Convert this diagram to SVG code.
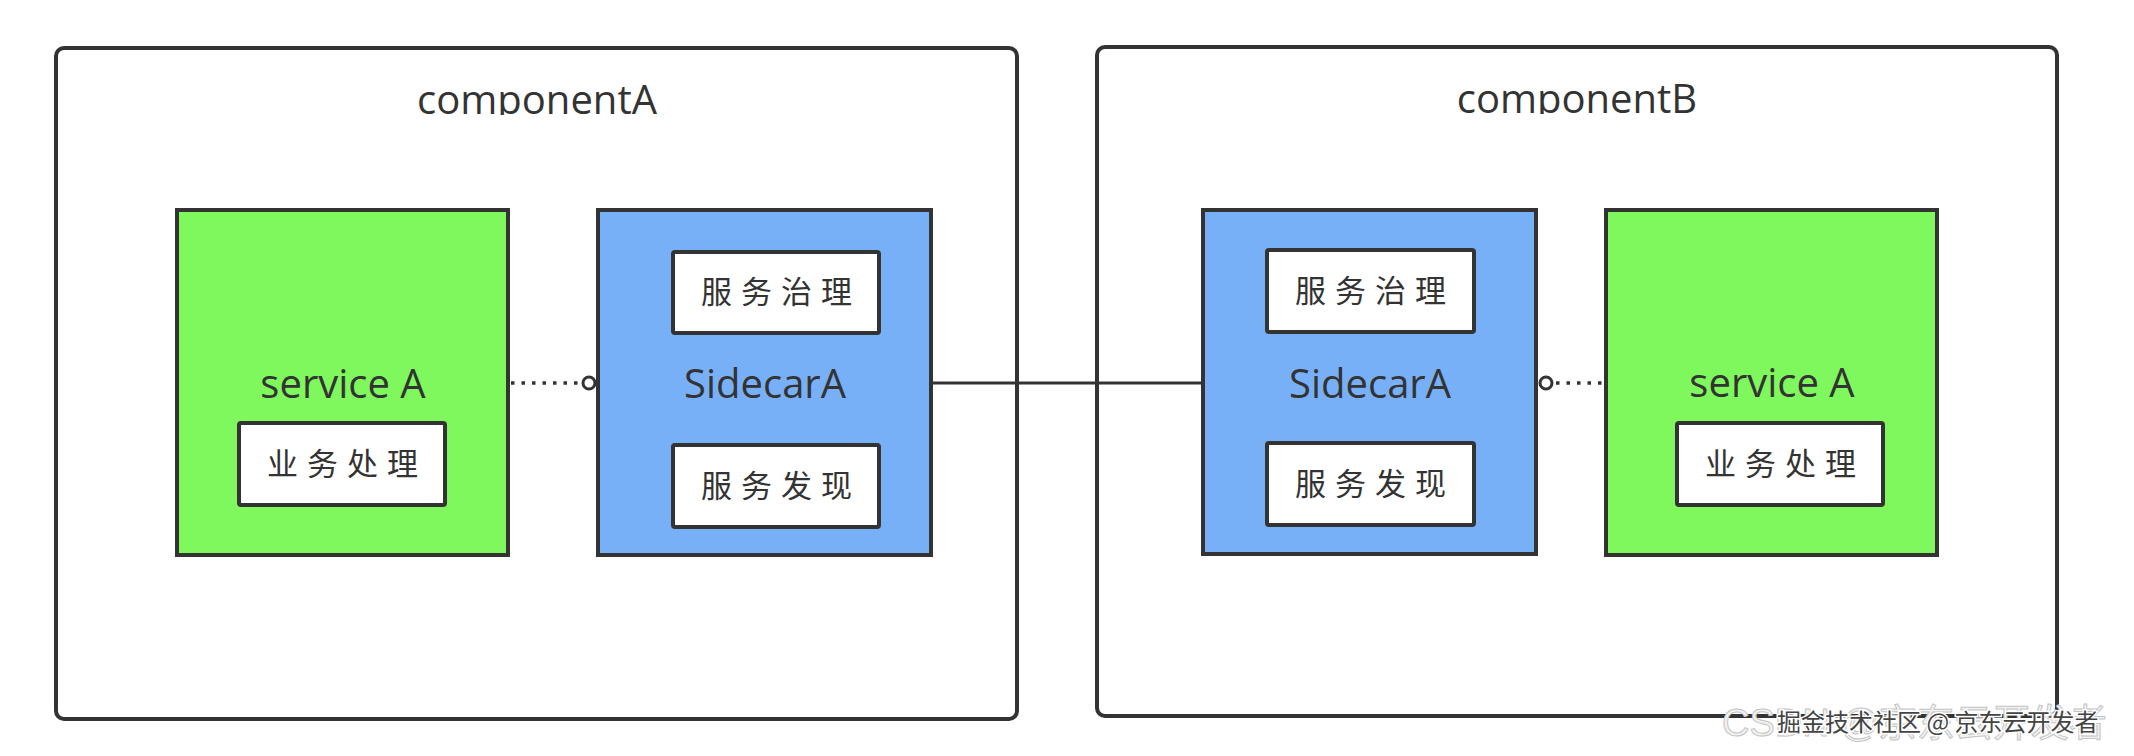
<svg xmlns="http://www.w3.org/2000/svg" width="2134" height="756" viewBox="0 0 2134 756">
  <defs>
    <style>
      .comp { fill: #ffffff; stroke: #333333; stroke-width: 4; }
      .svc { fill: #7ef85c; stroke: #333333; stroke-width: 4; }
      .side { fill: #78b0f8; stroke: #333333; stroke-width: 4; }
      .inner { fill: #ffffff; stroke: #333333; stroke-width: 4; }
      .title { font-family: "Open Sans", "Noto Sans", sans-serif; font-size: 40px; fill: #333333; text-anchor: middle; }
      .lbl { font-family: "Open Sans", "Noto Sans", sans-serif; font-size: 40px; fill: #333333; text-anchor: middle; }
      .cjk { font-family: "Noto Sans CJK SC", sans-serif; font-size: 31px; fill: #333333; text-anchor: middle; letter-spacing: 9px; }
      .solid { fill: none; stroke: #333333; stroke-width: 3; }
      .dots { fill: none; stroke: #333333; stroke-width: 3.5; stroke-dasharray: 3.5 7; }
      .ring { fill: #ffffff; stroke: #333333; stroke-width: 3; }
    </style>
    <clipPath id="clipA"><rect x="56" y="60" width="961" height="55"/></clipPath>
    <clipPath id="clipB"><rect x="1097" y="60" width="960" height="54"/></clipPath>
  </defs>
  <rect width="2134" height="756" fill="#ffffff"/>

  <g id="componentA">
    <rect class="comp" x="56" y="48" width="961" height="671" rx="8"/>
    <text class="title" x="537" y="114" clip-path="url(#clipA)">componentA</text>
  </g>
  <g id="componentB">
    <rect class="comp" x="1097" y="47" width="960" height="669" rx="8"/>
    <text class="title" x="1577" y="113" clip-path="url(#clipB)">componentB</text>
  </g>

  <g id="serviceA-left">
    <rect class="svc" x="177" y="210" width="331" height="345"/>
    <text class="lbl" x="343" y="398">service A</text>
    <g id="biz-left">
      <rect class="inner" x="239" y="423" width="206" height="82" rx="2"/>
      <text class="cjk" x="347" y="475">业务处理</text>
    </g>
  </g>

  <g id="sidecarA-left">
    <rect class="side" x="598" y="210" width="333" height="345"/>
    <text class="lbl" x="765" y="398">SidecarA</text>
    <g id="gov-left">
      <rect class="inner" x="673" y="252" width="206" height="81" rx="2"/>
      <text class="cjk" x="781" y="303">服务治理</text>
    </g>
    <g id="disc-left">
      <rect class="inner" x="673" y="445" width="206" height="82" rx="2"/>
      <text class="cjk" x="781" y="497">服务发现</text>
    </g>
  </g>

  <g id="sidecarA-right">
    <rect class="side" x="1203" y="210" width="333" height="344"/>
    <text class="lbl" x="1370" y="398">SidecarA</text>
    <g id="gov-right">
      <rect class="inner" x="1267" y="250" width="207" height="82" rx="2"/>
      <text class="cjk" x="1375" y="302">服务治理</text>
    </g>
    <g id="disc-right">
      <rect class="inner" x="1267" y="443" width="207" height="82" rx="2"/>
      <text class="cjk" x="1375" y="495">服务发现</text>
    </g>
  </g>

  <g id="serviceA-right">
    <rect class="svc" x="1606" y="210" width="331" height="345"/>
    <text class="lbl" x="1772" y="397">service A</text>
    <g id="biz-right">
      <rect class="inner" x="1677" y="423" width="206" height="82" rx="2"/>
      <text class="cjk" x="1785" y="475">业务处理</text>
    </g>
  </g>

  <g id="connectors">
    <line class="dots" x1="511" y1="383" x2="582" y2="383"/>
    <circle class="ring" cx="589" cy="383" r="6"/>
    <line class="solid" x1="931" y1="383" x2="1203" y2="383"/>
    <circle class="ring" cx="1546" cy="383" r="6"/>
    <line class="dots" x1="1556" y1="383" x2="1604" y2="383"/>
  </g>

  <g id="watermark">
    <text x="1722" y="736" font-family="'Liberation Sans', 'Noto Sans CJK SC', sans-serif" font-size="38" fill="#f2f2f2" stroke="#c4c4c4" stroke-width="1">CSDN @京东云开发者</text>
    <text x="1777" y="731" font-family="'Noto Sans CJK SC', sans-serif" font-size="24" fill="#444444" stroke="#ffffff" stroke-width="3" paint-order="stroke">掘金技术社区 @ 京东云开发者</text>
  </g>
</svg>
